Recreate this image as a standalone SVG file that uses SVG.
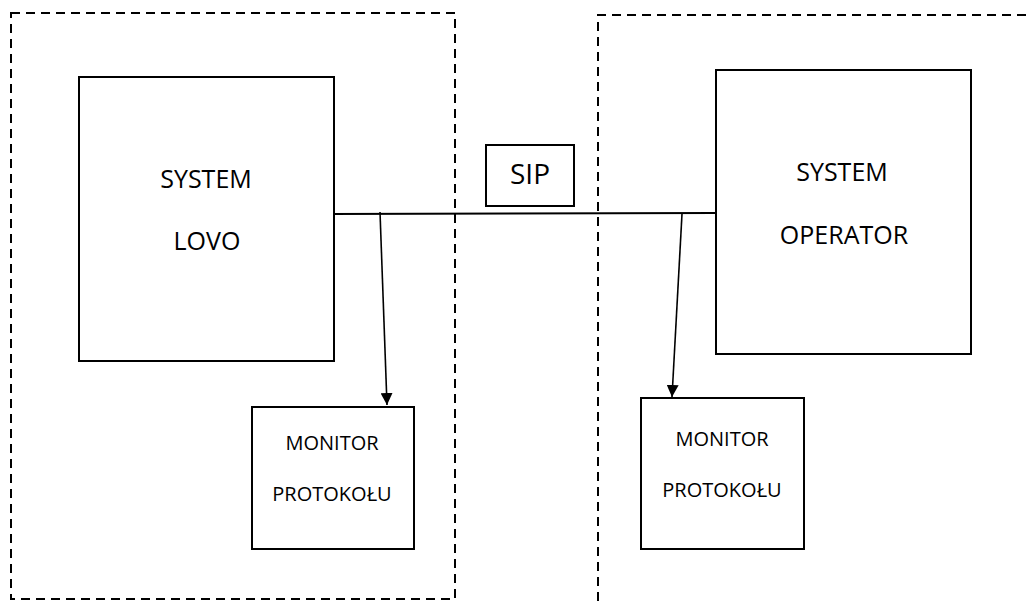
<svg xmlns="http://www.w3.org/2000/svg" width="1032" height="601" viewBox="0 0 1032 601">
<style>
.dash{fill:none;stroke:#000;stroke-width:2;stroke-dasharray:9 6}
.box{fill:#fff;stroke:#000;stroke-width:2}
.ln{fill:none;stroke:#000;stroke-width:2}
.ar{fill:none;stroke:#000;stroke-width:1.6}
.t{font-family:"Open Sans","Liberation Sans",sans-serif;fill:#000;text-anchor:middle}
.big{font-size:25px}
.sip{font-size:28px}
.sm{font-size:20px}
</style>
<defs>
<marker id="ah" markerWidth="13" markerHeight="12" refX="12" refY="6" orient="auto" markerUnits="userSpaceOnUse">
<path d="M0,0 L12,6 L0,12 Z" fill="#000"/>
</marker>
</defs>
<rect width="1032" height="601" fill="#fff"/>
<g id="zone-left"><rect class="dash" x="11" y="13" width="444" height="586"/></g>
<g id="zone-right"><path class="dash" d="M598,601 L598,15 L1032,15"/></g>
<g id="connectors">
<line class="ln" x1="330" y1="214" x2="716" y2="213"/>
<line class="ar" x1="380" y1="212" x2="387" y2="405" marker-end="url(#ah)"/>
<line class="ar" x1="682" y1="214" x2="672" y2="397" marker-end="url(#ah)"/>
</g>
<g id="system-lovo">
<rect class="box" x="79" y="77" width="255" height="284"/>
<text class="t big" x="206" y="188">SYSTEM</text>
<text class="t big" x="207" y="250">LOVO</text>
</g>
<g id="system-operator">
<rect class="box" x="716" y="70" width="255" height="284"/>
<text class="t big" x="842" y="181">SYSTEM</text>
<text class="t big" x="844" y="244">OPERATOR</text>
</g>
<g id="sip">
<rect class="box" x="486" y="145" width="88" height="61"/>
<text class="t sip" x="530" y="184">SIP</text>
</g>
<g id="monitor-left">
<rect class="box" x="252" y="407" width="162" height="142"/>
<text class="t sm" x="332" y="450">MONITOR</text>
<text class="t sm" x="332" y="501">PROTOKOŁU</text>
</g>
<g id="monitor-right">
<rect class="box" x="641" y="398" width="163" height="151"/>
<text class="t sm" x="722" y="446">MONITOR</text>
<text class="t sm" x="722" y="497">PROTOKOŁU</text>
</g>
</svg>
